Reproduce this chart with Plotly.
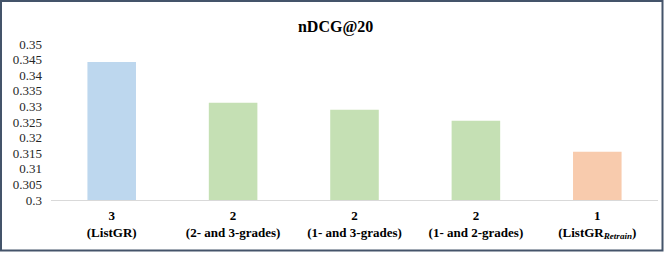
import plotly.graph_objects as go

categories = ["<b>3</b><br><b>(ListGR)</b>",
              "<b>2</b><br><b>(2- and 3-grades)</b>",
              "<b>2</b><br><b>(1- and 3-grades)</b>",
              "<b>2</b><br><b>(1- and 2-grades)</b>",
              "<b>1</b><br><b>(ListGR<sub><i>Retrain</i></sub>)</b>"]
values = [0.3442, 0.3312, 0.3289, 0.3254, 0.3155]
colors = ["#BDD7EE", "#C5E0B4", "#C5E0B4", "#C5E0B4", "#F8CBAD"]
ytick_vals = [0.3, 0.305, 0.31, 0.315, 0.32, 0.325, 0.33, 0.335, 0.34, 0.345, 0.35]
ytick_text = ["0.3", "0.305", "0.31", "0.315", "0.32", "0.325", "0.33", "0.335", "0.34", "0.345", "0.35"]

FONT = "Liberation Serif, Times New Roman, serif"

fig = go.Figure(go.Bar(x=categories, y=values, marker=dict(color=colors, line=dict(width=0))))

W, H = 664, 253
ml, mr, mt, mb = 51, 6, 44, 53
fig.update_layout(
    width=W, height=H,
    margin=dict(l=ml, r=mr, t=mt, b=mb),
    paper_bgcolor="white", plot_bgcolor="white",
    bargap=0.6,
    showlegend=False,
    font=dict(family=FONT, size=13, color="#000000"),
    title=dict(text="<b>nDCG@20</b>", x=(335.6) / W, xanchor="center", y=1 - 26 / H, yanchor="middle",
               font=dict(family=FONT, size=16, color="#000000")),
)
fig.update_yaxes(range=[0.3, 0.35], tickvals=ytick_vals, ticktext=ytick_text, showgrid=False,
                 zeroline=False, showline=False, ticks="", ticklabelstandoff=8,
                 tickfont=dict(family=FONT, size=13, color="#262626"))
fig.update_xaxes(showline=True, linecolor="#D9D9D9", linewidth=1,
                 ticks="outside", ticklen=3, tickcolor="rgba(0,0,0,0)",
                 tickfont=dict(family=FONT, size=13, color="#000000"))

pw = W - ml - mr
ph = H - mt - mb
fig.add_shape(type="rect", xref="paper", yref="paper",
              x0=(1 - ml) / pw, x1=(662.5 - ml) / pw,
              y0=(H - mb - 250.5) / ph, y1=(H - mb - 1) / ph,
              line=dict(color="#44546A", width=2), fillcolor="rgba(0,0,0,0)", layer="above")

fig.write_html("out.html", config={"displayModeBar": False},
               post_script="document.body.style.margin='0';document.body.style.padding='0';")
